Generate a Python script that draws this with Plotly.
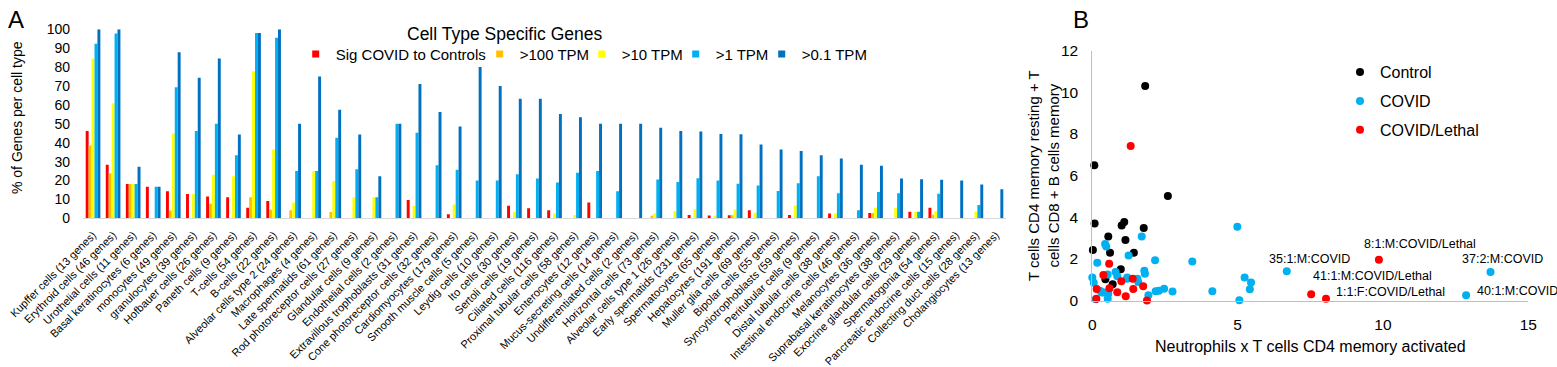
import plotly.graph_objects as go

W, H = 1557, 367
FONT = "Arial, 'Liberation Sans', sans-serif"

# ---------------- Panel A data ----------------
categories = [
    "Kupffer cells (13 genes)", "Erythroid cells (46 genes)", "Urothelial cells (11 genes)",
    "Basal keratinocytes (6 genes)", "monocytes (49 genes)", "granulocytes (39 genes)",
    "Hofbauer cells (26 genes)", "Paneth cells (9 genes)", "T-cells (54 genes)",
    "B-cells (22 genes)", "Alveolar cells type 2 (24 genes)", "Macrophages (4 genes)",
    "Late spermatids (61 genes)", "Rod photoreceptor cells (27 genes)", "Glandular cells (9 genes)",
    "Endothelial cells (2 genes)", "Extravillous trophoblasts (31 genes)",
    "Cone photoreceptor cells (32 genes)", "Cardiomyocytes (179 genes)",
    "Smooth muscle cells (5 genes)", "Leydig cells (10 genes)", "Ito cells (30 genes)",
    "Sertoli cells (19 genes)", "Ciliated cells (116 genes)", "Proximal tubular cells (58 genes)",
    "Enterocytes (12 genes)", "Mucus-secreting cells (14 genes)", "Undifferentiated cells (2 genes)",
    "Horizontal cells (73 genes)", "Alveolar cells type 1 (26 genes)", "Early spermatids (231 genes)",
    "Spermatocytes (65 genes)", "Hepatocytes (191 genes)", "Muller glia cells (69 genes)",
    "Bipolar cells (55 genes)", "Syncytiotrophoblasts (59 genes)", "Peritubular cells (9 genes)",
    "Distal tubular cells (38 genes)", "Intestinal endocrine cells (46 genes)",
    "Melanocytes (36 genes)", "Suprabasal keratinocytes (38 genes)",
    "Exocrine glandular cells (29 genes)", "Spermatogonia (54 genes)",
    "Pancreatic endocrine cells (15 genes)", "Collecting duct cells (28 genes)",
    "Cholangiocytes (13 genes)",
]

sig_covid = [46.2, 28.3, 18.2, 16.7, 14.3, 12.8, 11.5, 11.1, 5.6, 9.1,
             0, 0, 0, 0, 0, 0, 9.7, 0, 2.2, 0,
             0, 6.7, 5.3, 4.3, 0, 8.3, 0, 0, 0, 0,
             1.7, 1.5, 1.6, 4.3, 0, 1.7, 0, 2.6, 0, 2.8,
             0, 3.4, 5.6, 0, 0, 0]
tpm_100 = [38.5, 23.9, 18.2, 0, 4.1, 0, 7.7, 0, 11.1, 4.5,
           4.2, 0, 3.3, 0, 0, 0, 0, 0, 0, 0,
           0, 0, 0, 0, 0, 0, 0, 0, 1.4, 0,
           0, 0, 1.6, 0, 0, 0, 0, 0, 0, 2.8,
           0, 0, 1.9, 0, 0, 0]
tpm_10 = [84.6, 60.9, 18.2, 0, 44.9, 12.8, 23.1, 22.2, 77.8, 36.4,
          8.3, 25.0, 19.7, 11.1, 11.1, 0, 6.5, 0, 7.3, 0,
          0, 3.3, 0, 2.6, 1.7, 0, 0, 0, 2.7, 3.8,
          4.8, 1.5, 4.7, 2.9, 0, 6.8, 0, 2.6, 0, 5.6,
          5.3, 3.4, 3.7, 0, 3.6, 0]
tpm_1 = [92.3, 97.8, 18.2, 16.7, 69.4, 46.2, 50.0, 33.3, 98.1, 95.5,
         25.0, 25.0, 42.6, 25.9, 11.1, 50.0, 45.2, 28.1, 25.7, 20.0,
         20.0, 23.3, 21.1, 19.0, 24.1, 25.0, 14.3, 0, 20.5, 19.2,
         21.2, 20.0, 18.3, 17.4, 14.5, 18.6, 22.2, 13.2, 4.3, 13.9,
         13.2, 3.4, 13.0, 0, 7.1, 0]
tpm_01 = [100, 100, 27.3, 16.7, 87.8, 74.4, 84.6, 44.4, 98.1, 100,
          50.0, 75.0, 57.4, 44.4, 22.2, 50.0, 71.0, 56.3, 48.6, 80.0,
          70.0, 63.3, 63.2, 55.2, 53.4, 50.0, 50.0, 50.0, 47.9, 46.2,
          45.9, 44.6, 44.5, 39.1, 36.4, 35.6, 33.3, 31.6, 28.3, 27.8,
          21.1, 20.7, 20.4, 20.0, 17.9, 15.4]

bar_series = [sig_covid, tpm_100, tpm_10, tpm_1, tpm_01]
bar_names = ["Sig COVID to Controls", ">100 TPM", ">10 TPM", ">1 TPM", ">0.1 TPM"]
bar_colors = ["#FF0000", "#FFC000", "#FFFF00", "#00B0F0", "#0070C0"]
legend_widths = [139, 57, 49, 41, 0]

# ---------------- Panel B data ----------------
control_x = [1.82, 0.07, 2.60, 0.08, 1.01, 1.10, 1.77, 0.55, 1.14, 0.02, 0.61, 1.43, 0.98, 0.70, 0.45]
control_y = [10.31, 6.50, 5.02, 3.70, 3.60, 3.77, 3.49, 3.07, 2.91, 2.43, 2.30, 2.30, 1.50, 0.78, 1.02]

covid_x = [1.70, 0.44, 0.48, 1.25, 0.17, 2.16, 3.44, 0.80, 0.86, 1.79, 1.81, 0.00,
           0.53, 0.05, 1.20, 1.55, 1.58, 0.28, 0.41, 0.55, 0.53, 0.12, 1.93, 2.18,
           2.29, 2.47, 2.76, 4.13, 4.99, 5.24, 5.46, 5.42, 5.06, 0.33, 1.20,
           6.69, 13.70, 12.86]
covid_y = [3.07, 2.72, 2.59, 2.16, 1.81, 1.93, 1.87, 1.37, 1.17, 1.43, 1.29, 1.11,
           1.25, 0.85, 1.05, 1.05, 0.89, 0.46, 0.38, 0.33, 0.08, 0.06, 0.25, 0.44,
           0.47, 0.57, 0.43, 0.44, 3.55, 1.11, 0.87, 0.54, 0.01, 0.38, 1.10,
           1.40, 1.37, 0.25]

lethal_x = [1.32, 0.58, 0.38, 1.00, 1.39, 1.75, 0.15, 0.59, 1.41, 0.86, 1.15, 0.14, 1.88,
            9.86, 7.53, 8.04]
lethal_y = [7.43, 1.77, 1.23, 0.92, 1.04, 0.69, 0.55, 0.59, 0.55, 0.40, 0.21, 0.09, 0.00,
            1.96, 0.30, 0.09]

# labelled points: (series, index, text, xshift px, yshift px)
point_labels = [
    ("covid", 35, "35:1:M:COVID", 23, 12),
    ("covid", 36, "37:2:M:COVID", 12, 13),
    ("covid", 37, "40:1:M:COVID", 51, 4),
    ("lethal", 13, "8:1:M:COVID/Lethal", 41, 16),
    ("lethal", 14, "41:1:M:COVID/Lethal", 61, 18),
    ("lethal", 15, "1:1:F:COVID/Lethal", 64, 7),
]

fig = go.Figure()

for vals, name, col in zip(bar_series, bar_names, bar_colors):
    fig.add_trace(go.Bar(x=categories, y=vals, name=name, marker_color=col,
                         marker_line_width=0, showlegend=False,
                         xaxis="x", yaxis="y"))
for name, col, lw in zip(bar_names, bar_colors, legend_widths):
    fig.add_trace(go.Scatter(x=[None], y=[None], mode="markers", name=name,
                             marker=dict(symbol="square", size=7, color=col),
                             legend="legend", legendwidth=lw if lw else None,
                             xaxis="x", yaxis="y"))

scatter_sets = [("Control", control_x, control_y, "#000000"),
                ("COVID", covid_x, covid_y, "#00B0F0"),
                ("COVID/Lethal", lethal_x, lethal_y, "#FF0000")]
for i, (name, xs, ys, col) in enumerate(scatter_sets):
    fig.add_trace(go.Scatter(x=xs, y=ys, mode="markers", name=name,
                             marker=dict(size=8, color=col, line_width=0),
                             cliponaxis=False, legend="legend2",
                             legendgroup=name, xaxis="x2", yaxis="y2"))

series_lookup = {"covid": (covid_x, covid_y), "lethal": (lethal_x, lethal_y)}
annotations = []
for s, idx, txt, dx, dy in point_labels:
    xs, ys = series_lookup[s]
    annotations.append(dict(x=xs[idx], y=ys[idx], xref="x2", yref="y2", text=txt,
                            showarrow=False, xanchor="center", yanchor="middle",
                            xshift=dx, yshift=dy,
                            font=dict(family=FONT, size=12.5, color="#000")))

def px(x):
    return x / W

def py(y):
    return 1 - y / H

annotations += [
    dict(x=px(6), y=py(4), xref="paper", yref="paper", text="A", showarrow=False,
         xanchor="left", yanchor="top", font=dict(family=FONT, size=24, color="#000")),
    dict(x=px(1071), y=py(4), xref="paper", yref="paper", text="B", showarrow=False,
         xanchor="left", yanchor="top", font=dict(family=FONT, size=24, color="#000")),
    dict(x=px(505), y=py(34), xref="paper", yref="paper", text="Cell Type Specific Genes",
         showarrow=False, xanchor="center", yanchor="middle",
         font=dict(family=FONT, size=17.5, color="#000")),
    dict(x=px(17), y=py(118), xref="paper", yref="paper", text="% of Genes per cell type",
         showarrow=False, textangle=-90, xanchor="center", yanchor="middle",
         font=dict(family=FONT, size=14, color="#000")),
    dict(x=px(1043), y=py(176), xref="paper", yref="paper",
         text="T cells CD4 memory resting + T<br>cells CD8 + B cells memory",
         showarrow=False, textangle=-90, xanchor="center", yanchor="middle",
         font=dict(family=FONT, size=15, color="#000")),
    dict(x=px(1310), y=py(346), xref="paper", yref="paper",
         text="Neutrophils x T cells CD4 memory activated",
         showarrow=False, xanchor="center", yanchor="middle",
         font=dict(family=FONT, size=16, color="#000")),
]

fig.update_layout(
    width=W, height=H,
    margin=dict(l=0, r=0, t=0, b=0, autoexpand=False),
    paper_bgcolor="white", plot_bgcolor="white",
    font=dict(family=FONT, color="#000"),
    barmode="group", bargap=0.27, bargroupgap=0,
    xaxis=dict(domain=[px(83), px(1006)], anchor="y", type="category", automargin=False,
               showline=True, linecolor="#D9D9D9", linewidth=1,
               showgrid=False, zeroline=False, ticks="", tickangle=-45,
               tickfont=dict(size=11, family=FONT, color="#000"),
               ticklabelstandoff=5),
    yaxis=dict(domain=[py(218.3), py(29.3)], anchor="x", range=[0, 100], dtick=10,
               automargin=False, showline=False, showgrid=False, zeroline=False, ticks="",
               tickfont=dict(size=14, family=FONT, color="#000"), ticklabelstandoff=12),
    xaxis2=dict(domain=[px(1092.3), px(1528.3)], anchor="y2", range=[0, 15], dtick=5,
                automargin=False, showline=True, linecolor="#BFBFBF", linewidth=1,
                showgrid=False, zeroline=False, ticks="",
                tickfont=dict(size=15.5, family=FONT, color="#000"), ticklabelstandoff=10),
    yaxis2=dict(domain=[py(300.5), py(50.8)], anchor="x2", range=[0, 12], dtick=2,
                automargin=False, showline=True, linecolor="#BFBFBF", linewidth=1,
                showgrid=False, zeroline=False, ticks="",
                tickfont=dict(size=15.5, family=FONT, color="#000"), ticklabelstandoff=10),
    legend=dict(orientation="h", x=px(335.7 - 40), y=py(54.3), xanchor="left",
                yanchor="middle", bgcolor="rgba(0,0,0,0)",
                font=dict(size=15, family=FONT, color="#000"), itemwidth=30),
    legend2=dict(orientation="v", x=px(1380 - 40), y=py(101.2), xanchor="left",
                 yanchor="middle", bgcolor="rgba(0,0,0,0)", traceorder="grouped",
                 tracegroupgap=5, font=dict(size=16, family=FONT, color="#000")),
    annotations=annotations,
)

fig.write_html("out.html", config={"displayModeBar": False},
               post_script="document.body.style.margin='0';")
